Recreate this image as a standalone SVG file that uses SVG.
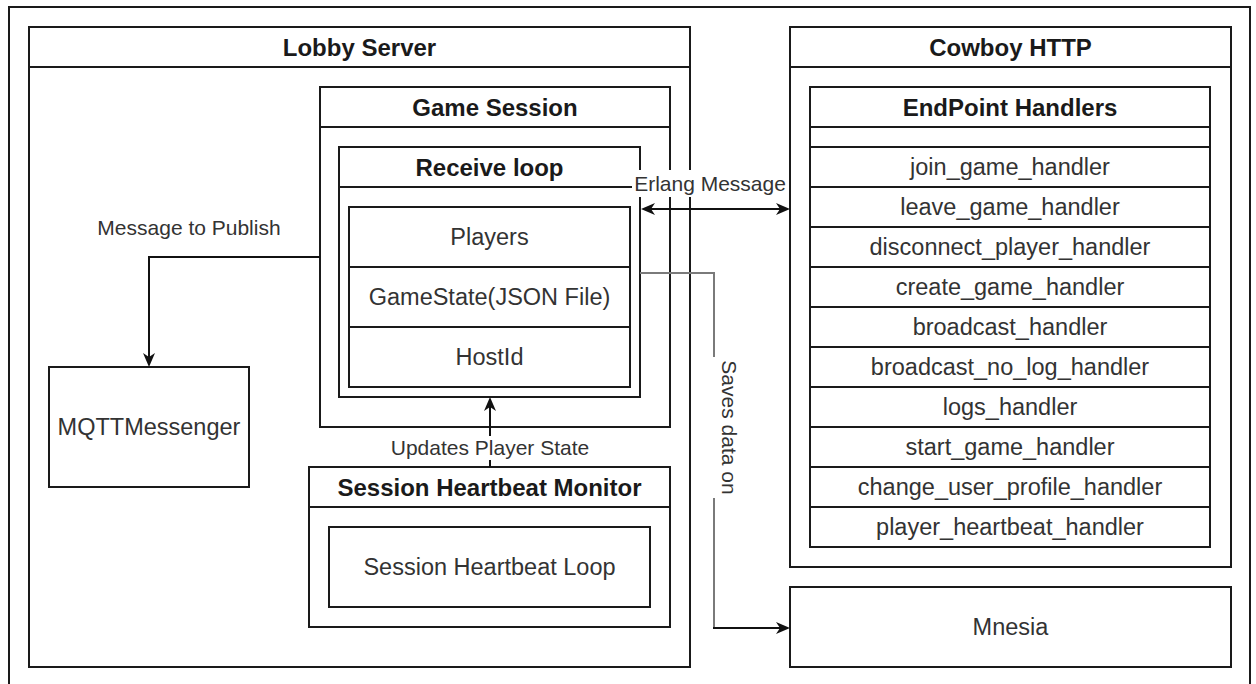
<svg xmlns="http://www.w3.org/2000/svg" width="1256" height="684" viewBox="0 0 1256 684">
<defs>
<marker id="arr" markerUnits="userSpaceOnUse" markerWidth="16" markerHeight="14" refX="4" refY="6" orient="auto-start-reverse" overflow="visible">
<path d="M0,0 L14,6 L0,12 L4,6 Z" fill="#111"/>
</marker>
<style>
.box{fill:#fff;stroke:#1a1a1a;stroke-width:2}
.ln{stroke:#1a1a1a;stroke-width:2;fill:none}
.t{font-family:"Liberation Sans",Arial,sans-serif;font-size:23.5px;fill:#333;text-anchor:middle;dominant-baseline:central}
.b{font-family:"Liberation Sans",Arial,sans-serif;font-size:24px;font-weight:bold;fill:#1a1a1a;text-anchor:middle;dominant-baseline:central}
.lb{font-family:"Liberation Sans",Arial,sans-serif;font-size:21px;fill:#333;text-anchor:middle;dominant-baseline:central}
.c{stroke:#111;stroke-width:2;fill:none}
</style>
</defs>
<rect width="1256" height="684" fill="#fff"/>
<rect x="9" y="7" width="1241" height="720" class="box"/>

<g id="lobby-server">
<rect x="29" y="27" width="661" height="640" class="box"/>
<line x1="29" y1="67" x2="690" y2="67" class="ln"/>
<text x="359.5" y="47" class="b">Lobby Server</text>
</g>

<g id="game-session">
<rect x="320" y="87" width="350" height="340" class="box"/>
<line x1="320" y1="127" x2="670" y2="127" class="ln"/>
<text x="495" y="107" class="b">Game Session</text>
</g>

<g id="receive-loop">
<rect x="339" y="147" width="301" height="250" class="box"/>
<line x1="339" y1="187" x2="640" y2="187" class="ln"/>
<text x="489.5" y="167" class="b">Receive loop</text>
</g>

<g id="receive-loop-fields">
<rect x="349" y="207" width="281" height="180" class="box"/>
<line x1="349" y1="267" x2="630" y2="267" class="ln"/>
<line x1="349" y1="327" x2="630" y2="327" class="ln"/>
<text x="489.5" y="237" class="t">Players</text>
<text x="489.5" y="297" class="t">GameState(JSON File)</text>
<text x="489.5" y="357" class="t">HostId</text>
</g>

<g id="mqtt-messenger">
<rect x="49" y="367" width="200" height="120" class="box"/>
<text x="149" y="427" class="t">MQTTMessenger</text>
</g>

<g id="session-heartbeat-monitor">
<rect x="309" y="467" width="361" height="160" class="box"/>
<line x1="309" y1="507" x2="670" y2="507" class="ln"/>
<text x="489.5" y="487" class="b">Session Heartbeat Monitor</text>
</g>

<g id="session-heartbeat-loop">
<rect x="329" y="527" width="321" height="80" class="box"/>
<text x="489.5" y="567" class="t">Session Heartbeat Loop</text>
</g>

<g id="cowboy-http">
<rect x="790" y="27" width="441" height="540" class="box"/>
<line x1="790" y1="67" x2="1231" y2="67" class="ln"/>
<text x="1010.5" y="47" class="b">Cowboy HTTP</text>
</g>

<g id="endpoint-handlers">
<rect x="810" y="87" width="400" height="460" class="box"/>
<line x1="810" y1="127" x2="1210" y2="127" class="ln"/>
<line x1="810" y1="147" x2="1210" y2="147" class="ln"/>
<line x1="810" y1="187" x2="1210" y2="187" class="ln"/>
<line x1="810" y1="227" x2="1210" y2="227" class="ln"/>
<line x1="810" y1="267" x2="1210" y2="267" class="ln"/>
<line x1="810" y1="307" x2="1210" y2="307" class="ln"/>
<line x1="810" y1="347" x2="1210" y2="347" class="ln"/>
<line x1="810" y1="387" x2="1210" y2="387" class="ln"/>
<line x1="810" y1="427" x2="1210" y2="427" class="ln"/>
<line x1="810" y1="467" x2="1210" y2="467" class="ln"/>
<line x1="810" y1="507" x2="1210" y2="507" class="ln"/>
<text x="1010" y="107" class="b">EndPoint Handlers</text>
<text x="1010" y="167" class="t">join_game_handler</text>
<text x="1010" y="207" class="t">leave_game_handler</text>
<text x="1010" y="247" class="t">disconnect_player_handler</text>
<text x="1010" y="287" class="t">create_game_handler</text>
<text x="1010" y="327" class="t">broadcast_handler</text>
<text x="1010" y="367" class="t">broadcast_no_log_handler</text>
<text x="1010" y="407" class="t">logs_handler</text>
<text x="1010" y="447" class="t">start_game_handler</text>
<text x="1010" y="487" class="t">change_user_profile_handler</text>
<text x="1010" y="527" class="t">player_heartbeat_handler</text>
</g>

<g id="mnesia">
<rect x="790" y="587" width="441" height="80" class="box"/>
<text x="1010.5" y="627" class="t">Mnesia</text>
</g>

<g id="connectors">
<path d="M320,257 H149 V357" class="c" marker-end="url(#arr)"/>
<text x="189" y="227" class="lb">Message to Publish</text>

<path d="M651,209 H780" class="c" marker-start="url(#arr)" marker-end="url(#arr)"/>
<rect x="632" y="170" width="156" height="27" fill="#fff"/>
<text x="710" y="183" class="lb">Erlang Message</text>

<path d="M490,467 V407" class="c" marker-end="url(#arr)"/>
<rect x="385" y="436" width="210" height="24" fill="#fff"/>
<text x="490" y="447" class="lb">Updates Player State</text>

<path d="M640,273 H714 V628" stroke="#7a7a7a" stroke-width="2" fill="none"/>
<path d="M713,628 H780" class="c" marker-end="url(#arr)"/>
<rect x="713" y="357" width="32" height="141" fill="#fff"/>
<text x="729" y="427.5" class="lb" transform="rotate(90 729 427.5)">Saves data on</text>
</g>
</svg>
